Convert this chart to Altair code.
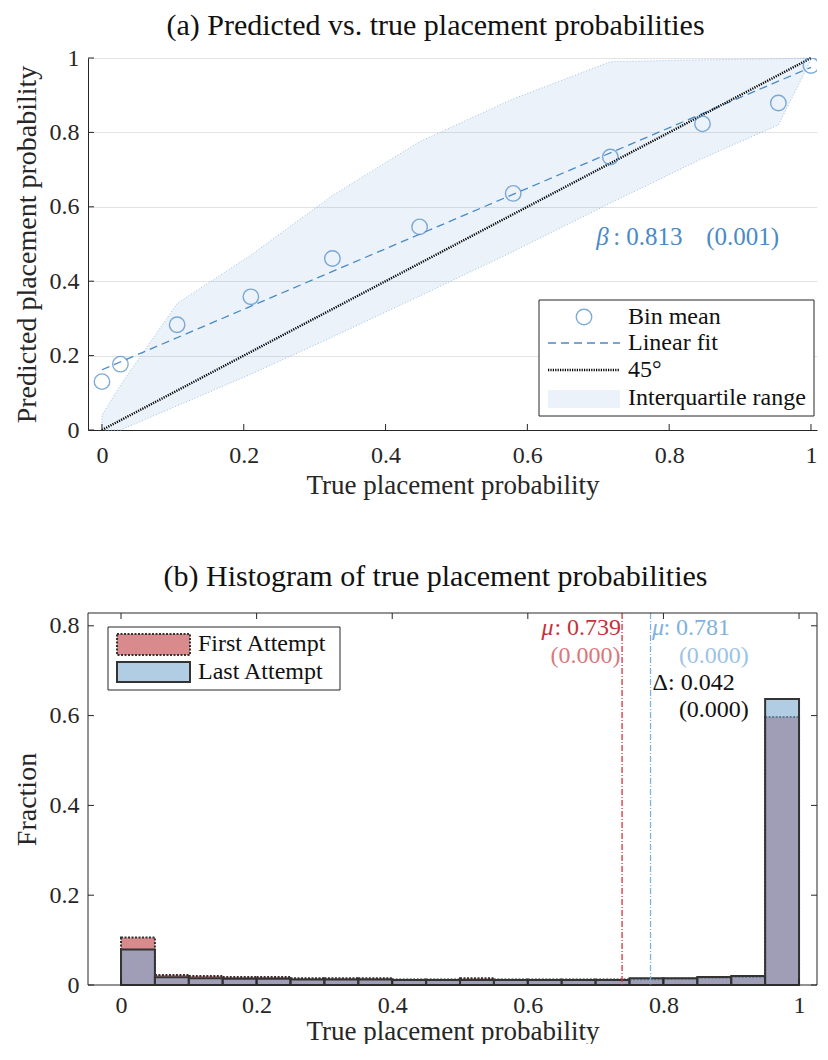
import altair as alt
import pandas as pd

# ---------------- Panel (a) data ----------------
bin_x = [0.0, 0.026, 0.106, 0.210, 0.325, 0.448, 0.580, 0.717, 0.847, 0.954, 1.0]
bin_mean = [0.130, 0.177, 0.283, 0.358, 0.461, 0.546, 0.636, 0.734, 0.823, 0.879, 0.980]
iqr_low = [0.0, 0.0, 0.065, 0.150, 0.250, 0.360, 0.480, 0.610, 0.730, 0.820, 0.995]
iqr_high = [0.040, 0.120, 0.340, 0.470, 0.630, 0.775, 0.890, 0.990, 0.995, 0.998, 1.0]
fit_x = [0.0, 1.0]
fit_y = [0.162, 0.975]
diag = [0.0, 1.0]
ticks_a = [0.0, 0.2, 0.4, 0.6, 0.8, 1.0]

# ---------------- Panel (b) data ----------------
bin_start = [0.00, 0.05, 0.10, 0.15, 0.20, 0.25, 0.30, 0.35, 0.40, 0.45,
             0.50, 0.55, 0.60, 0.65, 0.70, 0.75, 0.80, 0.85, 0.90, 0.95]
bin_end = [0.05, 0.10, 0.15, 0.20, 0.25, 0.30, 0.35, 0.40, 0.45, 0.50,
           0.55, 0.60, 0.65, 0.70, 0.75, 0.80, 0.85, 0.90, 0.95, 1.00]
last_frac = [0.079, 0.017, 0.015, 0.014, 0.014, 0.012, 0.012, 0.012, 0.011, 0.011,
             0.011, 0.011, 0.011, 0.011, 0.011, 0.015, 0.015, 0.018, 0.020, 0.637]
first_frac = [0.106, 0.022, 0.020, 0.018, 0.018, 0.015, 0.015, 0.015, 0.012, 0.012,
              0.015, 0.012, 0.012, 0.012, 0.012, 0.013, 0.014, 0.016, 0.018, 0.597]
mu_first = 0.739
mu_last = 0.781
ticks_bx = [0.0, 0.2, 0.4, 0.6, 0.8, 1.0]
ticks_by = [0.0, 0.2, 0.4, 0.6, 0.8]

FONT = "Liberation Serif"
AX = "#262626"
BLUE = "#4a8ac6"
RED_FACE = "#be3c3f"
BLUE_FACE = "#7bacd2"
EDGE = "#333333"
W, H = 729, 372
TICK_FS, XT_FS, YT_FS, TITLE_FS, ANN_FS, LEG_FS = 24, 27, 28, 30, 24, 24

one = pd.DataFrame({"k": [0]})


def xaxis(values, title, domain=True, lp=13, tp=5):
    return alt.Axis(values=values, title=title, format="~g", ticks=False, grid=False,
                    domain=domain, domainColor=AX, labelColor=AX, titleColor=AX,
                    labelFontSize=TICK_FS, titleFontSize=XT_FS, labelPadding=lp,
                    titlePadding=tp, labelFont=FONT, titleFont=FONT,
                    titleFontWeight="normal")


def yaxis(values, title, grid, domain=True):
    return alt.Axis(values=values, title=title, format="~g", ticks=False, grid=grid,
                    gridColor="#e3e3e3", domain=domain, domainColor=AX, labelColor=AX,
                    titleColor=AX, labelFontSize=TICK_FS, titleFontSize=YT_FS,
                    labelPadding=9, titlePadding=8, labelFont=FONT, titleFont=FONT,
                    titleFontWeight="normal")


# ================= Panel (a) =================
xa = alt.Scale(domain=[-0.0197, 1.0085], nice=False, zero=False)
ya = alt.Scale(domain=[0, 1], nice=False, zero=False)

dfa = pd.DataFrame({"x": bin_x, "m": bin_mean, "lo": iqr_low, "hi": iqr_high})
dfit = pd.DataFrame({"x": fit_x, "y": fit_y})
ddiag = pd.DataFrame({"x": diag, "y": diag})
dta = pd.DataFrame({"t": ticks_a})

area = alt.Chart(dfa).mark_area(fill=BLUE, fillOpacity=0.11, stroke="#9cc2e6",
                                strokeDash=[1, 2], strokeWidth=1).encode(
    x=alt.X("x:Q", scale=xa, axis=xaxis(ticks_a, "True placement probability")),
    y=alt.Y("lo:Q", scale=ya, axis=yaxis(ticks_a, "Predicted placement probability", True)),
    y2="hi:Q",
)
fit = alt.Chart(dfit).mark_line(color=BLUE, strokeDash=[8, 5], strokeWidth=1.3).encode(
    x=alt.X("x:Q", scale=xa), y=alt.Y("y:Q", scale=ya))
diag_line = alt.Chart(ddiag).mark_line(color="#000000", strokeDash=[1.2, 1.2],
                                       strokeWidth=2.4).encode(
    x=alt.X("x:Q", scale=xa), y=alt.Y("y:Q", scale=ya))
pts = alt.Chart(dfa).mark_point(shape="circle", size=240, filled=False, color=BLUE,
                                strokeWidth=1.4, clip=True).encode(
    x=alt.X("x:Q", scale=xa), y=alt.Y("m:Q", scale=ya))


def txta(text, x, y, align, italic=False):
    kw = dict(text=text, font=FONT, fontSize=ANN_FS + 1, color=BLUE, align=align,
              baseline="middle")
    if italic:
        kw["fontStyle"] = "italic"
    return alt.Chart(one).mark_text(**kw).encode(
        x=alt.datum(x, scale=xa), y=alt.datum(y, scale=ya))


beta = [
    txta("β", 0.697, 0.52, "left", True),
    txta(": 0.813", 0.721, 0.52, "left"),
    txta("(0.001)", 0.955, 0.52, "right"),
]

xt_a = alt.Chart(dta).mark_rule(color=AX, strokeWidth=1).encode(
    x=alt.X("t:Q", scale=xa), y=alt.value(H), y2=alt.value(H - 6))
yt_a = alt.Chart(dta).mark_rule(color=AX, strokeWidth=1).encode(
    y=alt.Y("t:Q", scale=ya), x=alt.value(0), x2=alt.value(6))

# legend (a)
lg_box = alt.Chart(one).mark_rect(fill="white", stroke=AX, strokeWidth=1).encode(
    x=alt.value(451), x2=alt.value(726), y=alt.value(242), y2=alt.value(358))
lg_pt = alt.Chart(one).mark_point(shape="circle", size=240, filled=False, color=BLUE,
                                  strokeWidth=1.4).encode(x=alt.value(496), y=alt.value(259))
lg_fit = alt.Chart(one).mark_rule(color=BLUE, strokeDash=[8, 5], strokeWidth=1.3).encode(
    x=alt.value(460), x2=alt.value(532), y=alt.value(285))
lg_diag = alt.Chart(one).mark_rule(color="#000000", strokeDash=[1.2, 1.2],
                                   strokeWidth=2.4).encode(
    x=alt.value(460), x2=alt.value(532), y=alt.value(312))
lg_iqr = alt.Chart(one).mark_rect(fill=BLUE, fillOpacity=0.11).encode(
    x=alt.value(460), x2=alt.value(532), y=alt.value(332), y2=alt.value(350))
lg_texts = []
for lbl, yy in [("Bin mean", 259), ("Linear fit", 285), ("45°", 312),
                ("Interquartile range", 340)]:
    lg_texts.append(alt.Chart(one).mark_text(text=lbl, font=FONT, fontSize=LEG_FS,
                                             color="#111111", align="left",
                                             baseline="middle").encode(
        x=alt.value(540), y=alt.value(yy)))

top = alt.layer(area, fit, diag_line, pts, *beta, xt_a, yt_a,
                lg_box, lg_pt, lg_fit, lg_diag, lg_iqr, *lg_texts).properties(
    width=W, height=H,
    title=alt.TitleParams("(a) Predicted vs. true placement probabilities", font=FONT,
                          fontSize=TITLE_FS, fontWeight="normal", color="#111111",
                          anchor="middle", dx=-17, offset=5),
)

# ================= Panel (b) =================
xb = alt.Scale(domain=[-0.0487, 1.0265], nice=False, zero=False)
yb = alt.Scale(domain=[0, 0.8285], nice=False, zero=False)

dfb = pd.DataFrame({"s": bin_start, "e": bin_end, "first": first_frac, "last": last_frac})
dtbx = pd.DataFrame({"t": ticks_bx})
dtby = pd.DataFrame({"t": ticks_by})

bars_first = alt.Chart(dfb).mark_rect(fill=RED_FACE, fillOpacity=0.6, stroke=EDGE,
                                      strokeWidth=2, strokeDash=[2, 1.5]).encode(
    x=alt.X("s:Q", scale=xb,
            axis=xaxis(ticks_bx, "True placement probability", False, lp=8, tp=1)),
    x2="e:Q",
    y=alt.Y("first:Q", scale=yb, axis=yaxis(ticks_by, "Fraction", False, False)),
    y2=alt.datum(0))
bars_last = alt.Chart(dfb).mark_rect(fill=BLUE_FACE, fillOpacity=0.6, stroke=EDGE,
                                     strokeWidth=2).encode(
    x=alt.X("s:Q", scale=xb), x2="e:Q",
    y=alt.Y("last:Q", scale=yb), y2=alt.datum(0))

mean_r = alt.Chart(one).mark_rule(color="#d1343c", strokeDash=[6, 2, 1, 2],
                                  strokeWidth=1.3).encode(
    x=alt.datum(mu_first, scale=xb), y=alt.value(0), y2=alt.value(H))
mean_b = alt.Chart(one).mark_rule(color="#7fb1dc", strokeDash=[6, 2, 1, 2],
                                  strokeWidth=1.3).encode(
    x=alt.datum(mu_last, scale=xb), y=alt.value(0), y2=alt.value(H))


def txt(text, x, y, color, align, italic=False):
    kw = dict(text=text, font=FONT, fontSize=ANN_FS, color=color, align=align,
              baseline="middle")
    if italic:
        kw["fontStyle"] = "italic"
    return alt.Chart(one).mark_text(**kw).encode(
        x=alt.datum(x, scale=xb), y=alt.datum(y, scale=yb))


ann = [
    txt("μ", 0.638, 0.795, "#c9303a", "right", True),
    txt(": 0.739", 0.7375, 0.795, "#c9303a", "right"),
    txt("(0.000)", 0.7365, 0.733, "#d9787d", "right"),
    txt("μ", 0.783, 0.795, "#7fb1dc", "left", True),
    txt(": 0.781", 0.800, 0.795, "#7fb1dc", "left"),
    txt("(0.000)", 0.926, 0.733, "#9cc3e4", "right"),
    txt("Δ: 0.042", 0.784, 0.672, "#111111", "left"),
    txt("(0.000)", 0.926, 0.612, "#111111", "right"),
]

frame = alt.Chart(one).mark_rect(fillOpacity=0, stroke=AX, strokeWidth=1).encode(
    x=alt.value(0), x2=alt.value(W), y=alt.value(0), y2=alt.value(H))
xt_b1 = alt.Chart(dtbx).mark_rule(color=AX).encode(
    x=alt.X("t:Q", scale=xb), y=alt.value(H), y2=alt.value(H - 6))
xt_b2 = alt.Chart(dtbx).mark_rule(color=AX).encode(
    x=alt.X("t:Q", scale=xb), y=alt.value(0), y2=alt.value(6))
yt_b1 = alt.Chart(dtby).mark_rule(color=AX).encode(
    y=alt.Y("t:Q", scale=yb), x=alt.value(0), x2=alt.value(6))
yt_b2 = alt.Chart(dtby).mark_rule(color=AX).encode(
    y=alt.Y("t:Q", scale=yb), x=alt.value(W), x2=alt.value(W - 6))

# legend (b)
lb_box = alt.Chart(one).mark_rect(fill="white", stroke=AX, strokeWidth=1).encode(
    x=alt.value(20), x2=alt.value(252), y=alt.value(14), y2=alt.value(77))
lb_first = alt.Chart(one).mark_rect(fill=RED_FACE, fillOpacity=0.6, stroke=EDGE,
                                    strokeWidth=2, strokeDash=[2, 1.5]).encode(
    x=alt.value(29), x2=alt.value(102), y=alt.value(21), y2=alt.value(42))
lb_last = alt.Chart(one).mark_rect(fill=BLUE_FACE, fillOpacity=0.6, stroke=EDGE,
                                   strokeWidth=2).encode(
    x=alt.value(29), x2=alt.value(102), y=alt.value(49), y2=alt.value(69))
lb_t1 = alt.Chart(one).mark_text(text="First Attempt", font=FONT, fontSize=LEG_FS,
                                 color="#111111", align="left", baseline="middle").encode(
    x=alt.value(110), y=alt.value(31))
lb_t2 = alt.Chart(one).mark_text(text="Last Attempt", font=FONT, fontSize=LEG_FS,
                                 color="#111111", align="left", baseline="middle").encode(
    x=alt.value(110), y=alt.value(59))

bottom = alt.layer(bars_first, bars_last, mean_r, mean_b, *ann, frame, xt_b1, xt_b2,
                   yt_b1, yt_b2, lb_box, lb_first, lb_last, lb_t1, lb_t2).properties(
    width=W, height=H,
    title=alt.TitleParams("(b) Histogram of true placement probabilities", font=FONT,
                          fontSize=TITLE_FS, fontWeight="normal", color="#111111",
                          anchor="middle", dx=-17, offset=20),
)

chart = alt.vconcat(top, bottom, spacing=64).properties(
    padding={"left": 5, "top": 3, "right": 0, "bottom": 0}
).configure(font=FONT).configure_view(stroke=None)

chart.save("out.html", embed_options={"renderer": "svg", "actions": False})
